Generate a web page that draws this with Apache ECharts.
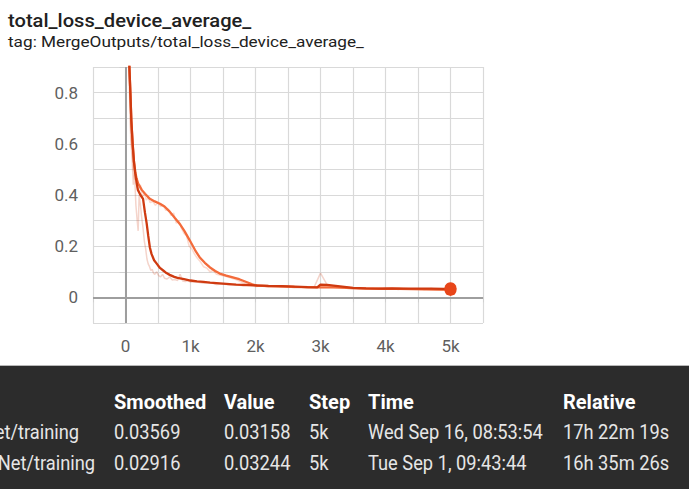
<!DOCTYPE html>
<html><head><meta charset="utf-8">
<script src="https://cdn.jsdelivr.net/npm/echarts@6/dist/echarts.min.js"></script>
<style>html,body{margin:0;padding:0;background:#fff;}#c{width:689px;height:489px;}</style>
</head><body><div id="c"></div>
<script>
// ---- data ----
const titleText = 'total_loss_device_average_';
const tagText = 'tag: MergeOutputs/total_loss_device_average_';

const xTicks = [0, 1000, 2000, 3000, 4000, 5000];
const xTickLabels = ['0', '1k', '2k', '3k', '4k', '5k'];
const yTicks = [0, 0.2, 0.4, 0.6, 0.8];
const yTickLabels = ['0', '0.2', '0.4', '0.6', '0.8'];

// run A (dark red) smoothed
const stepsSmoothA = [30,60,75,90,110,130,150,170,190,230,270,300,325,350,375,400,440,480,530,580,630,680,750,800,900,1000,1100,1200,1300,1400,1500,1600,1700,1800,1900,2000,2200,2400,2600,2800,2950,3000,3100,3200,3300,3400,3500,3700,3900,4100,4300,4500,4700,4900,5000];
const lossSmoothA = [1.2,0.9,0.8,0.69,0.6,0.53,0.485,0.45,0.42,0.40,0.385,0.33,0.29,0.24,0.195,0.17,0.145,0.132,0.115,0.105,0.095,0.088,0.08,0.076,0.071,0.066,0.063,0.061,0.058,0.056,0.054,0.052,0.05,0.049,0.048,0.047,0.045,0.044,0.042,0.04,0.039,0.05,0.049,0.046,0.043,0.04,0.037,0.035,0.034,0.035,0.034,0.034,0.034,0.033,0.0357];

// run B (orange) smoothed
const stepsSmoothB = [30,60,75,90,110,130,150,170,195,250,300,375,450,530,600,680,760,835,910,990,1070,1140,1220,1300,1380,1450,1550,1650,1750,1860,1950,2020,2200,2400,2600,2800,3000,3200,3400,3600,3800,4000,4200,4400,4600,4800,5000];
const lossSmoothB = [1.2,0.9,0.8,0.69,0.6,0.53,0.49,0.465,0.445,0.42,0.405,0.385,0.375,0.366,0.355,0.335,0.31,0.287,0.258,0.222,0.185,0.157,0.135,0.117,0.103,0.093,0.085,0.078,0.071,0.06,0.051,0.046,0.044,0.043,0.041,0.04,0.039,0.039,0.037,0.035,0.034,0.033,0.033,0.032,0.031,0.03,0.0292];

// run A raw
const stepsRawA = [20,40,60,80,100,120,140,160,180,195,210,230,250,270,290,310,330,350,370,390,410,430,450,480,510,540,570,600,640,680,720,760,800,840,880,920,960,1000,1100,1200,1300,1400,1500,1600,1700,1800,1900,2000,2100,2200,2300,2400,2500,2600,2700,2800,2900,3000,3100,3200,3300,3400,3500,3600,3700,3800,3900,4000,4100,4200,4300,4400,4500,4600,4700,4800,4900,5000];
const lossRawA = [1.3,1.0,0.82,0.62,0.55,0.44,0.48,0.36,0.30,0.26,0.40,0.36,0.31,0.27,0.22,0.19,0.15,0.13,0.12,0.105,0.11,0.095,0.09,0.1,0.085,0.08,0.09,0.075,0.072,0.08,0.068,0.07,0.066,0.09,0.064,0.062,0.066,0.06,0.06,0.055,0.058,0.05,0.052,0.048,0.05,0.045,0.047,0.043,0.045,0.041,0.043,0.04,0.042,0.038,0.04,0.037,0.039,0.095,0.05,0.045,0.04,0.036,0.034,0.036,0.033,0.035,0.032,0.036,0.034,0.031,0.035,0.033,0.034,0.031,0.035,0.032,0.034,0.0316];

// run B raw
const stepsRawB = [20,40,60,80,100,120,140,160,180,200,230,260,290,320,350,380,420,460,500,540,580,620,660,700,740,780,820,860,900,940,980,1020,1060,1100,1150,1200,1250,1300,1350,1400,1500,1600,1700,1800,1900,2000,2100,2200,2300,2400,2500,2600,2700,2800,2900,3000,3100,3200,3300,3400,3500,3600,3700,3800,3900,4000,4100,4200,4300,4400,4500,4600,4700,4800,4900,5000];
const lossRawB = [1.3,1.0,0.85,0.65,0.58,0.50,0.46,0.47,0.43,0.42,0.44,0.39,0.41,0.38,0.39,0.37,0.375,0.36,0.37,0.355,0.36,0.34,0.345,0.32,0.33,0.29,0.30,0.27,0.25,0.24,0.2,0.19,0.17,0.155,0.14,0.12,0.115,0.1,0.105,0.09,0.085,0.078,0.07,0.058,0.05,0.045,0.045,0.043,0.044,0.042,0.043,0.041,0.042,0.04,0.041,0.039,0.04,0.038,0.04,0.037,0.038,0.036,0.037,0.035,0.036,0.034,0.035,0.033,0.034,0.033,0.032,0.034,0.032,0.031,0.033,0.0324];

// table
const tableHeader = ['Smoothed', 'Value', 'Step', 'Time', 'Relative'];
const runNames = ['et/training', 'Net/training'];
const rowSmoothed = ['0.03569', '0.02916'];
const rowValue = ['0.03158', '0.03244'];
const rowStep = ['5k', '5k'];
const rowTime = ['Wed Sep 16, 08:53:54', 'Tue Sep 1, 09:43:44'];
const rowRelative = ['17h 22m 19s', '16h 35m 26s'];

// ---- styling ----
const colorA = '#cf3a10';
const colorB = '#f36b3b';
const dotColor = '#e8461a';
const FONT = 'Roboto, "Noto Sans", sans-serif';

function zip(xs, ys) { const n = Math.min(xs.length, ys.length); const out = []; for (let i = 0; i < n; i++) out.push([xs[i], ys[i]]); return out; }

const chart = echarts.init(document.getElementById('c'), null, { renderer: 'svg' });

const colX = [114, 224, 309, 368, 563];
const headerY = 402, rowY = [432.5, 463.5];
const rowScale = 0.87;

const graphics = [
  { type: 'text', x: 8, y: 21, scaleX: 1.06, style: { text: titleText, fill: '#212121', fontSize: 19, fontWeight: 500, fontFamily: FONT, textAlign: 'left', textVerticalAlign: 'middle' } },
  { type: 'text', x: 8, y: 42, scaleX: 1.11, style: { text: tagText, fill: '#212121', fontSize: 15.5, fontFamily: FONT, textAlign: 'left', textVerticalAlign: 'middle' } },
  { type: 'rect', shape: { x: 0, y: 366, width: 689, height: 123 }, style: { fill: '#2c2c2c' } },
  { type: 'rect', shape: { x: 0, y: 365, width: 689, height: 1 }, style: { fill: '#b8b8b8' } }
];
tableHeader.forEach((h, i) => {
  graphics.push({ type: 'text', x: colX[i], y: headerY, style: { text: h, fill: '#ffffff', fontSize: 20, fontWeight: 'bold', fontFamily: FONT, textAlign: 'left', textVerticalAlign: 'middle' } });
});
const nameRight = [79, 95];
for (let r = 0; r < 2; r++) {
  const cells = [rowSmoothed[r], rowValue[r], rowStep[r], rowTime[r], rowRelative[r]];
  graphics.push({ type: 'text', x: nameRight[r], y: rowY[r], scaleX: rowScale, style: { text: runNames[r], fill: '#e6e6e6', fontSize: 21, fontFamily: FONT, textAlign: 'right', textVerticalAlign: 'middle' } });
  cells.forEach((t, i) => {
    graphics.push({ type: 'text', x: colX[i], y: rowY[r], scaleX: rowScale, style: { text: t, fill: '#e6e6e6', fontSize: 21, fontFamily: FONT, textAlign: 'left', textVerticalAlign: 'middle' } });
  });
}

const gridColor = '#d9d9d9';

chart.setOption({
  animation: false,
  backgroundColor: '#ffffff',
  grid: { left: 93, right: 206, top: 67, bottom: 166, containLabel: false },
  xAxis: {
    type: 'value', min: -500, max: 5500, interval: 500,
    axisLine: { show: false },
    axisTick: { show: true, length: 5, lineStyle: { color: '#d0d0d0' } },
    splitLine: { show: true, lineStyle: { color: gridColor, width: 1.2 } },
    axisLabel: {
      show: true, margin: 14, color: '#5f5f5f', fontSize: 17, fontFamily: FONT,
      formatter: v => { const k = xTicks.indexOf(Math.round(v)); return k >= 0 ? xTickLabels[k] : ''; }
    }
  },
  yAxis: {
    type: 'value', min: -0.1, max: 0.9, interval: 0.1,
    axisLine: { show: false },
    axisTick: { show: true, length: 6, lineStyle: { color: '#d0d0d0' } },
    splitLine: { show: true, lineStyle: { color: gridColor, width: 1.2 } },
    axisLabel: {
      show: true, margin: 15, color: '#5f5f5f', fontSize: 17, fontFamily: FONT,
      formatter: v => { const k = yTicks.findIndex(t => Math.abs(t - v) < 1e-6); return k >= 0 ? yTickLabels[k] : ''; }
    }
  },
  graphic: { elements: graphics },
  series: [
    {
      type: 'line', data: zip(stepsRawB, lossRawB), showSymbol: false, symbol: 'none',
      lineStyle: { color: colorB, width: 1.5, opacity: 0.25 }, itemStyle: { color: colorB }, z: 2,
      markLine: {
        silent: true, symbol: ['none', 'none'], label: { show: false },
        lineStyle: { color: '#9e9e9e', width: 2, type: 'solid', opacity: 1 },
        data: [{ xAxis: 0 }, { yAxis: 0 }]
      }
    },
    { type: 'line', data: zip(stepsRawA, lossRawA), showSymbol: false, symbol: 'none', lineStyle: { color: colorA, width: 1.5, opacity: 0.22 }, itemStyle: { color: colorA }, z: 3 },
    { type: 'line', data: zip(stepsSmoothB, lossSmoothB), showSymbol: false, symbol: 'none', lineStyle: { color: colorB, width: 2.3 }, itemStyle: { color: colorB }, z: 4 },
    { type: 'line', data: zip(stepsSmoothA, lossSmoothA), showSymbol: false, symbol: 'none', lineStyle: { color: colorA, width: 2.3 }, itemStyle: { color: colorA }, z: 5 },
    {
      type: 'scatter', symbolSize: 12, itemStyle: { color: dotColor, opacity: 1 }, z: 6,
      data: [
        [stepsSmoothB[stepsSmoothB.length - 1], lossSmoothB[lossSmoothB.length - 1]],
        [stepsSmoothA[stepsSmoothA.length - 1], lossSmoothA[lossSmoothA.length - 1]]
      ]
    }
  ]
});
</script>
</body></html>
